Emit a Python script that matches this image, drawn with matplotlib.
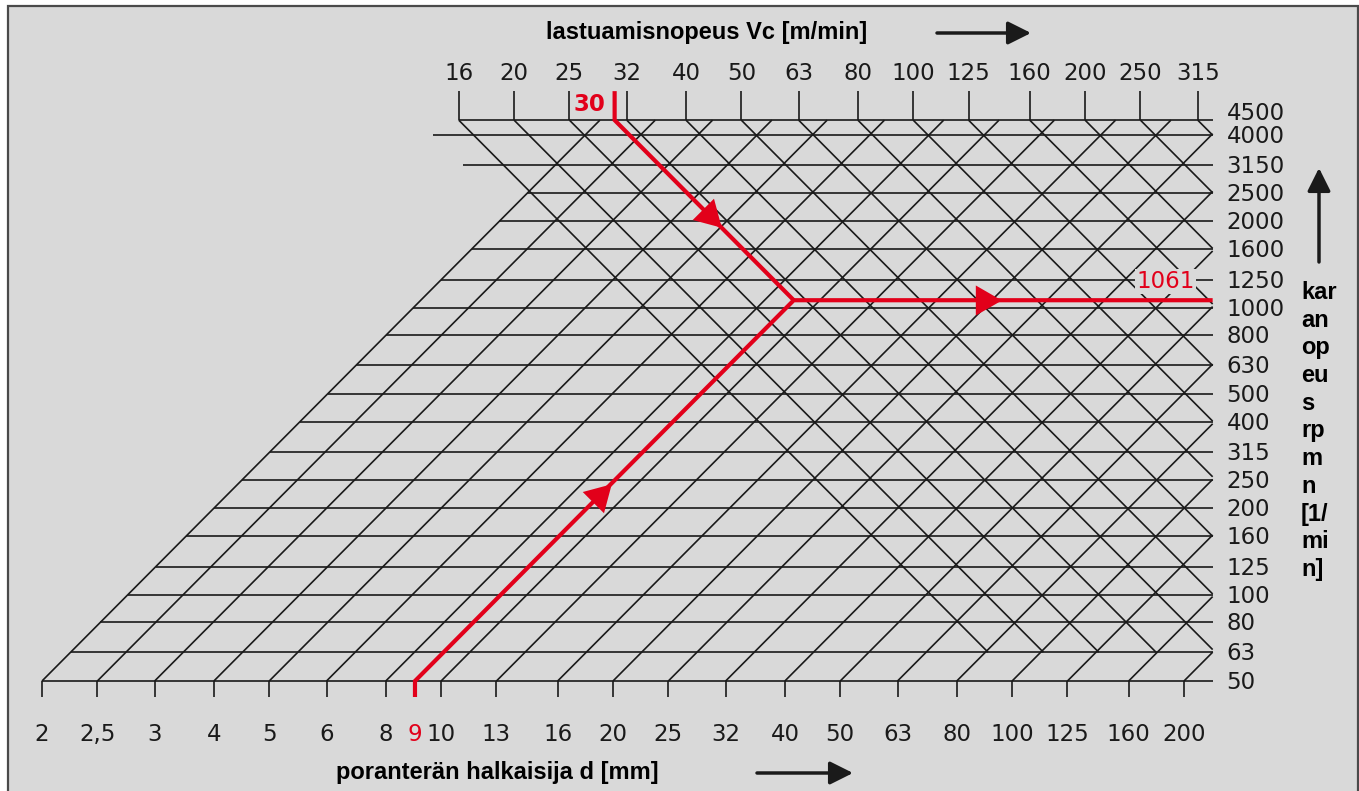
import math

import matplotlib
matplotlib.use("Agg")
import matplotlib.pyplot as plt
from matplotlib.patches import Rectangle

# spindle speed n [1/min], one horizontal line each
RPM = [50, 63, 80, 100, 125, 160, 200, 250, 315, 400, 500, 630, 800, 1000,
       1250, 1600, 2000, 2500, 3150, 4000, 4500]
RPM_LABELS = [str(v) for v in RPM]

# drill diameter d [mm] (R10 positions, rounded labels as printed)
DIAM = [2, 2.5, 3.15, 4, 5, 6.3, 8, 10, 12.5, 16, 20, 25, 31.5, 40, 50,
        63, 80, 100, 125, 160, 200]
DIAM_LABELS = ["2", "2,5", "3", "4", "5", "6", "8", "10", "13", "16", "20",
               "25", "32", "40", "50", "63", "80", "100", "125", "160", "200"]

# cutting speed Vc [m/min]
VC = [16, 20, 25, 31.5, 40, 50, 63, 80, 100, 125, 160, 200, 250, 315]
VC_LABELS = ["16", "20", "25", "32", "40", "50", "63", "80", "100", "125",
             "160", "200", "250", "315"]

# worked example drawn in red
D_SEL = 9
VC_SEL = 30
N_SEL = 1061

RED = "#e2001a"
INK = "#1a1a1a"
BG = "#d9d9d9"
TICK_FS = 16.5

N_BASE = 50      # bottom line
N_TOP = 4500     # top line
N_VLOW = 63      # speed lines stop here
PX_X = 571.0     # pixels per decade, horizontal
PX_Y = 287.0     # pixels per decade, vertical
W, H = 1359, 791


def x_on_d(d, n):
    return math.log10(d) + 0.5 * math.log10(n / N_BASE)


def x_on_v(v, n):
    # Vc = pi * d * n / 1000
    return x_on_d(1000.0 * v / (math.pi * n), n)


X_R = x_on_d(DIAM[-1], N_VLOW)
X0 = math.log10(DIAM[0]) - 42 / PX_X
LY0 = math.log10(N_BASE) - 110 / PX_Y

fig = plt.figure(figsize=(W / 100, H / 100), dpi=100, facecolor="white")
fig.add_artist(Rectangle((8 / W, -0.05), (W - 9) / W, 1.05 - 6.5 / H,
                         transform=fig.transFigure, facecolor=BG,
                         edgecolor="#4a4a4a", lw=1.6, zorder=-5))
ax = fig.add_axes([0, 0, 1, 1])
ax.set_facecolor("none")
ax.set_yscale("log")
ax.set_xlim(X0, X0 + W / PX_X)
ax.set_ylim(10 ** LY0, 10 ** (LY0 + H / PX_Y))
ax.axis("off")

grid = dict(color=INK, lw=1.2, zorder=2, solid_capstyle="butt")

# horizontal rpm lines
line_start = {3150: 1.038, 4000: 0.986, 4500: x_on_v(VC[0], N_TOP)}
for n in RPM:
    xs = line_start.get(n, x_on_d(DIAM[0], n))
    ax.plot([xs, X_R], [n, n], **grid)

# diameter lines, rising to the right
tick_lo = N_BASE * 10 ** (-16 / PX_Y)
for d, lab in zip(DIAM, DIAM_LABELS):
    x_b = math.log10(d)
    n_end = min(N_TOP, N_BASE * 10 ** (2 * (X_R - x_b)))
    ax.plot([x_b, x_on_d(d, n_end)], [N_BASE, n_end], **grid)
    ax.plot([x_b, x_b], [tick_lo, N_BASE], **grid)
    ax.annotate(lab, (x_b, N_BASE), xytext=(0, -60), textcoords="offset pixels",
                ha="center", va="baseline", fontsize=TICK_FS, color=INK)

# cutting speed lines, falling to the right
tick_hi = N_TOP * 10 ** (29 / PX_Y)
for v, lab in zip(VC, VC_LABELS):
    x_t = x_on_v(v, N_TOP)
    n_end = 10 ** (2 * (math.log10(1000 * v / math.pi) - 0.5 * math.log10(N_BASE) - X_R))
    n_end = max(N_VLOW, n_end)
    ax.plot([x_t, x_on_v(v, n_end)], [N_TOP, n_end], **grid)
    ax.plot([x_t, x_t], [N_TOP, tick_hi], **grid)
    ax.annotate(lab, (x_t, N_TOP), xytext=(0, 40), textcoords="offset pixels",
                ha="center", va="baseline", fontsize=TICK_FS, color=INK)

for n, lab in zip(RPM, RPM_LABELS):
    dy = 0 if n == N_TOP else -8
    ax.annotate(lab, (X_R, n), xytext=(14, dy), textcoords="offset pixels",
                ha="left", va="baseline", fontsize=TICK_FS, color=INK)

# red example path
red = dict(color=RED, lw=3.0, zorder=4, solid_joinstyle="miter", solid_capstyle="butt")
x_d = math.log10(D_SEL)
x_v = x_on_v(VC_SEL, N_TOP)
x_j = x_on_d(D_SEL, N_SEL)
ax.plot([x_d, x_d, x_j, X_R], [tick_lo, N_BASE, N_SEL, N_SEL], **red)
ax.plot([x_v, x_v, x_on_v(VC_SEL, N_SEL)], [tick_hi, N_TOP, N_SEL], **red)

tri = dict(color=RED, markersize=25, zorder=5, markeredgewidth=0)
ax.plot([x_on_v(VC_SEL, 2100)], [2100], marker=(3, 0, -135), **tri)
ax.plot([x_on_d(D_SEL, 220)], [220], marker=(3, 0, -45), **tri)
ax.plot([X0 + 984 / PX_X], [N_SEL], marker=(3, 0, -90), **tri)

ax.annotate(str(VC_SEL), (x_v, N_TOP), xytext=(-9, 9), textcoords="offset pixels",
            ha="right", va="baseline", fontsize=16.5, weight="bold", color=RED, zorder=6)
ax.annotate(str(D_SEL), (x_d, N_BASE), xytext=(0, -60), textcoords="offset pixels",
            ha="center", va="baseline", fontsize=TICK_FS, color=RED, zorder=6)
ax.annotate(str(N_SEL), (X_R, 1250), xytext=(-47, -8), textcoords="offset pixels",
            ha="center", va="baseline", fontsize=16.5, color=RED, zorder=6,
            bbox=dict(boxstyle="square,pad=0.05", fc=BG, ec="none"))

# axis titles and direction arrows
bold = dict(family="Liberation Sans", weight="bold", fontsize=17, color="black")
fig.text(707 / W, 1 - 33 / H, "lastuamisnopeus Vc [m/min]", ha="center", va="center", **bold)
fig.text(497 / W, 1 - 772 / H, "poranterän halkaisija d [mm]", ha="center", va="center", **bold)
for i, part in enumerate(["kar", "an", "op", "eu", "s", "rp", "m", "n", "[1/", "mi", "n]"]):
    fig.text(1301 / W, 1 - (299 + i * 27.7) / H, part, ha="left", va="baseline", **bold)

arrow = dict(arrowstyle="-|>,head_length=0.7,head_width=0.35", color="#1a1a1a",
             lw=2.5, mutation_scale=20, shrinkA=0, shrinkB=0)
for (x1, y1), (x2, y2) in [((937, 33), (1031, 33)), ((757, 773), (853, 773)),
                           ((1319, 262), (1319, 168))]:
    ax.annotate("", xy=(x2, H - y2), xytext=(x1, H - y1), xycoords="figure pixels",
                textcoords="figure pixels", arrowprops=arrow)

fig.savefig("out.png", dpi=100, facecolor="white")
